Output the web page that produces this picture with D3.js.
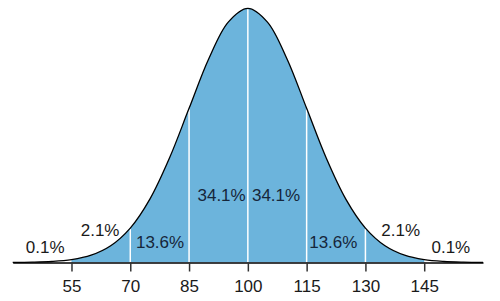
<!DOCTYPE html>
<html>
<head>
<meta charset="utf-8">
<script src="https://cdn.jsdelivr.net/npm/d3@7"></script>
<style>
  html, body { margin: 0; padding: 0; background: #fff; }
  svg { display: block; }
  text { font-family: "Liberation Sans", Arial, sans-serif; }
</style>
</head>
<body>
<svg id="chart" width="500" height="301"></svg>
<script>
// ---- Data ----
// Scores on the x axis (IQ scale)
const scores = [40, 45, 50, 55, 60, 65, 70, 75, 80, 85, 90, 95, 100,
                105, 110, 115, 120, 125, 130, 135, 140, 145, 150, 155, 160];
// Curve height (probability density) at each score
const density = [0.0000089, 0.000032, 0.000103, 0.000295, 0.00076, 0.00175, 0.0036,
                 0.00663, 0.01093, 0.01613, 0.0213, 0.02516, 0.0266,
                 0.02516, 0.0213, 0.01613, 0.01093, 0.00663, 0.0036,
                 0.00175, 0.00076, 0.000295, 0.000103, 0.000032, 0.0000089];
// Tick labels
const tickLabels = [55, 70, 85, 100, 115, 130, 145];
// Band dividers (white lines)
const dividers = [70, 85, 100, 115, 130];
// Shaded range
const shadeRange = [55, 145];
// Percentage labels
const pctLabels = ["0.1%", "2.1%", "13.6%", "34.1%", "34.1%", "13.6%", "2.1%", "0.1%"];
const pctInside = [false, false, true, true, true, true, false, false];

// ---- Layout (positions of the labels: score at centre, baseline in px) ----
const pctLayout = [[48.3, 252.5], [62.3, 236], [77.6, 247.5], [93.3, 200.5],
                   [107.2, 200.5], [121.8, 247.5], [139.0, 236], [151.8, 253]];

const svg = d3.select("#chart");
const axisY = 262.5;
const fontSize = "17px";

const x = d3.scaleLinear().domain([40, 160]).range([12.7, 483]);
const y = d3.scaleLinear().domain([0, 0.0266]).range([axisY, 8.3]);

const pts = scores.map((s, i) => ({ s, d: density[i] }));

// clip for shaded area
svg.append("defs").append("clipPath").attr("id", "shade")
  .append("rect")
  .attr("x", x(shadeRange[0]))
  .attr("y", 0)
  .attr("width", x(shadeRange[1]) - x(shadeRange[0]))
  .attr("height", axisY);

const area = d3.area()
  .x(d => x(d.s))
  .y0(axisY)
  .y1(d => y(d.d))
  .curve(d3.curveCatmullRom.alpha(0.5));

svg.append("path")
  .datum(pts)
  .attr("clip-path", "url(#shade)")
  .attr("fill", "#6cb4dc")
  .attr("d", area);

// white dividers
svg.selectAll("line.div")
  .data(dividers)
  .join("line")
  .attr("class", "div")
  .attr("x1", d => x(d)).attr("x2", d => x(d))
  .attr("y1", axisY)
  .attr("y2", d => y(density[scores.indexOf(d)]) + 1)
  .attr("stroke", "#ffffff")
  .attr("stroke-width", 1.5);

// curve
const line = d3.line()
  .x(d => x(d.s))
  .y(d => y(d.d))
  .curve(d3.curveCatmullRom.alpha(0.5));

svg.append("path")
  .datum(pts)
  .attr("fill", "none")
  .attr("stroke", "#000")
  .attr("stroke-width", 1.3)
  .attr("d", line);

// axis
const axis = d3.axisBottom(x)
  .tickValues(tickLabels)
  .tickFormat(d3.format("d"))
  .tickSize(9)
  .tickSizeOuter(0)
  .tickPadding(8);

const gAxis = svg.append("g")
  .attr("transform", `translate(0,${axisY})`)
  .call(axis);

gAxis.select(".domain").attr("stroke", "#000").attr("stroke-width", 1.5);
gAxis.selectAll(".tick line").attr("stroke", "#333").attr("stroke-width", 1.5);
gAxis.selectAll(".tick text")
  .attr("fill", "#1a1a1a")
  .style("font-family", "'Liberation Sans', Arial, sans-serif")
  .style("font-size", fontSize);

// percentage labels
svg.selectAll("text.pct")
  .data(pctLabels)
  .join("text")
  .attr("class", "pct")
  .attr("x", (d, i) => x(pctLayout[i][0]))
  .attr("y", (d, i) => pctLayout[i][1])
  .attr("text-anchor", "middle")
  .attr("fill", (d, i) => pctInside[i] ? "#16263a" : "#1a1a1a")
  .style("font-size", fontSize)
  .text(d => d);
</script>
</body>
</html>
